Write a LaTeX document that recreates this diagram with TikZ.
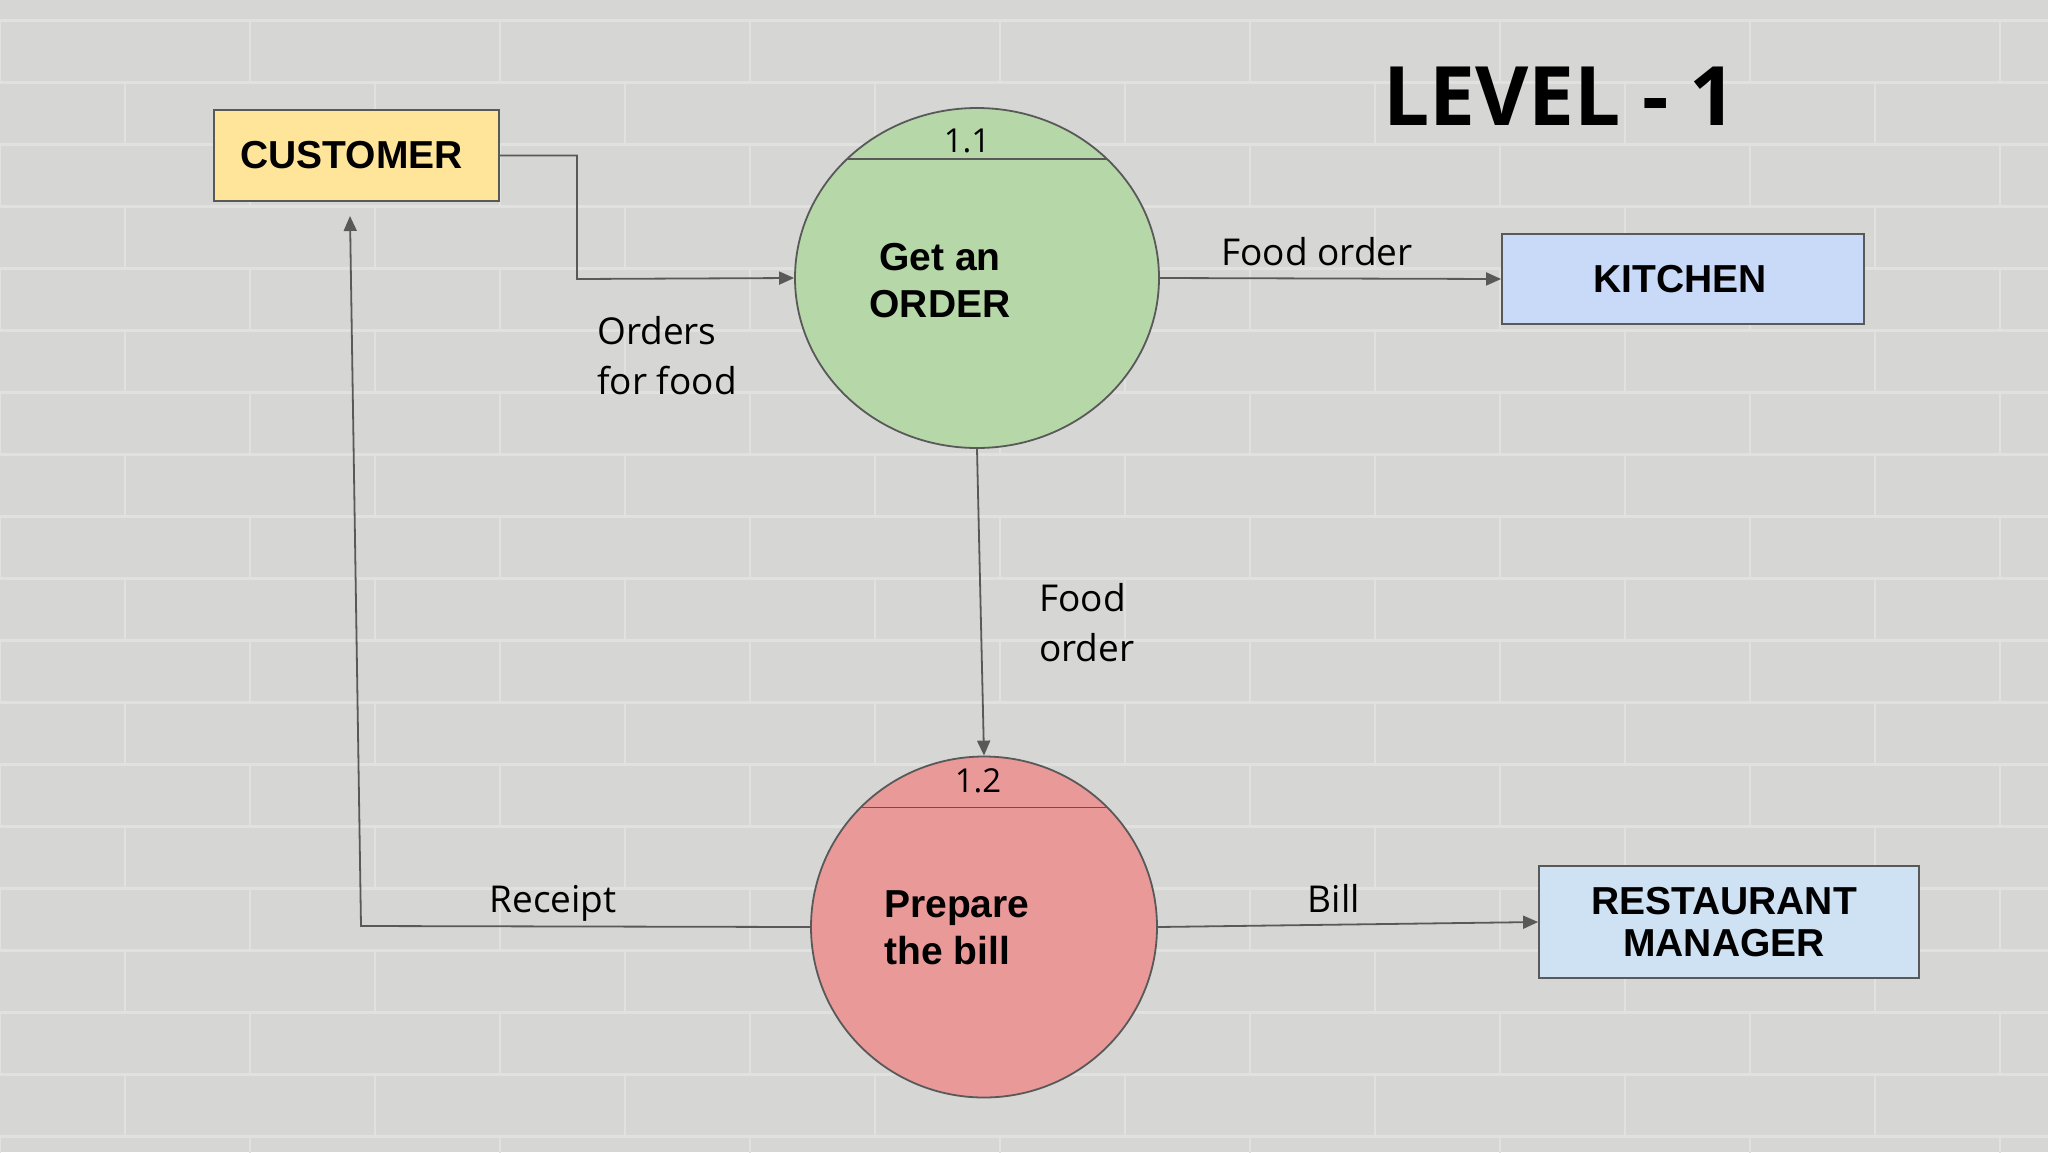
\documentclass[tikz,border=0pt]{standalone}
\usepackage{fontspec}
\setmainfont{Open Sans}
\newfontfamily\boxfont{Liberation Sans}
\usetikzlibrary{shapes.geometric,arrows.meta}

\definecolor{wallgray}{RGB}{214,214,212}
\definecolor{mortar}{RGB}{225,225,223}
\definecolor{linegray}{RGB}{89,89,89}
\definecolor{custyellow}{RGB}{255,229,153}
\definecolor{kitblue}{RGB}{201,218,248}
\definecolor{mgrblue}{RGB}{207,226,243}
\definecolor{ordergreen}{RGB}{182,215,168}
\definecolor{billred}{RGB}{234,153,153}

\tikzset{
  entity/.style={rectangle,draw=linegray,line width=1.8pt,inner sep=0pt,
    font=\boxfont\bfseries\fontsize{39}{42}\selectfont,align=center},
  process/.style={ellipse,draw=linegray,line width=1.8pt,inner sep=0pt,
    path picture={\draw[linegray,line width=1.8pt]
      ([yshift=-51pt]path picture bounding box.north west) --
      ([yshift=-51pt]path picture bounding box.north east);}},
  proctext/.style={inner sep=0pt,font=\boxfont\bfseries\fontsize{39}{47}\selectfont},
  flowlabel/.style={inner sep=0pt,font=\fontsize{37}{50}\selectfont,align=left},
  flow/.style={draw=linegray,line width=1.8pt,-{Triangle[length=15pt,width=13pt]}}
}

\begin{document}
\begin{tikzpicture}[x=1pt,y=-1pt]
  % wall
  \useasboundingbox (0,0) rectangle (2048,1152);
  \fill[wallgray] (0,0) rectangle (2048,1152);
  \foreach \r in {0,...,18}{
    \draw[mortar,line width=3pt] (0,\r*62+20) -- (2048,\r*62+20);
    \pgfmathsetmacro{\off}{mod(\r,2)*125}
    \foreach \c in {0,...,9}{
      \draw[mortar,line width=2pt] (\c*250+\off,\r*62+20) -- (\c*250+\off,\r*62+82);
    }
  }

  % title
  \node[inner sep=0pt,anchor=base,font=\bfseries\fontsize{82}{82}\selectfont] (title) at (1560,125) {LEVEL - 1};

  % entities
  \node[entity,fill=custyellow,minimum width=285pt,minimum height=91pt] (cust) at (356.5,155.5) {CUSTOMER\hspace*{10pt}};
  \node[entity,fill=kitblue,minimum width=362pt,minimum height=90pt] (kit) at (1683,279) {KITCHEN\hspace*{6pt}};
  \node[entity,fill=mgrblue,minimum width=380pt,minimum height=112pt] (mgr) at (1729,922) {RESTAURANT\hspace*{10pt}\\MANAGER\hspace*{10pt}};

  % processes
  \node[process,fill=ordergreen,minimum width=364pt,minimum height=340pt] (po) at (977,278) {};
  \node[process,fill=billred,minimum width=346pt,minimum height=341pt] (pb) at (984,927) {};
  \node[inner sep=0pt,anchor=base,font=\fontsize{33}{33}\selectfont] (ponum) at (967,152) {1.1};
  \node[inner sep=0pt,anchor=base,font=\fontsize{33}{33}\selectfont] (pbnum) at (978,792) {1.2};
  \node[proctext,align=center] (potext) at (940,281) {Get an\\ORDER};
  \node[proctext,align=left,anchor=west] (pbtext) at (884,928) {Prepare\\the bill};

  % flows
  \coordinate (oc) at (577,279);
  \coordinate (rc) at (361,926);
  \coordinate (rt) at (350,216);
  \draw[flow] (cust.east) -| (oc) -- (po.west);
  \draw[flow] (po.east) -- (kit.west);
  \draw[flow] (po.south) -- (pb.north);
  \draw[flow] (pb.west) -- (rc) -- (rt);
  \draw[flow] (pb.east) -- (mgr.west);

  % flow labels
  \node[flowlabel,anchor=west] (lorders) at (597,356) {Orders\\for food};
  \node[flowlabel,anchor=base] (lkit) at (1317,265) {Food order};
  \node[flowlabel,anchor=west] (lfood) at (1039,623) {Food\\order};
  \node[flowlabel,anchor=base] (lreceipt) at (553,912) {Receipt};
  \node[flowlabel,anchor=base] (lbill) at (1334,912) {Bill};
\end{tikzpicture}
\end{document}
